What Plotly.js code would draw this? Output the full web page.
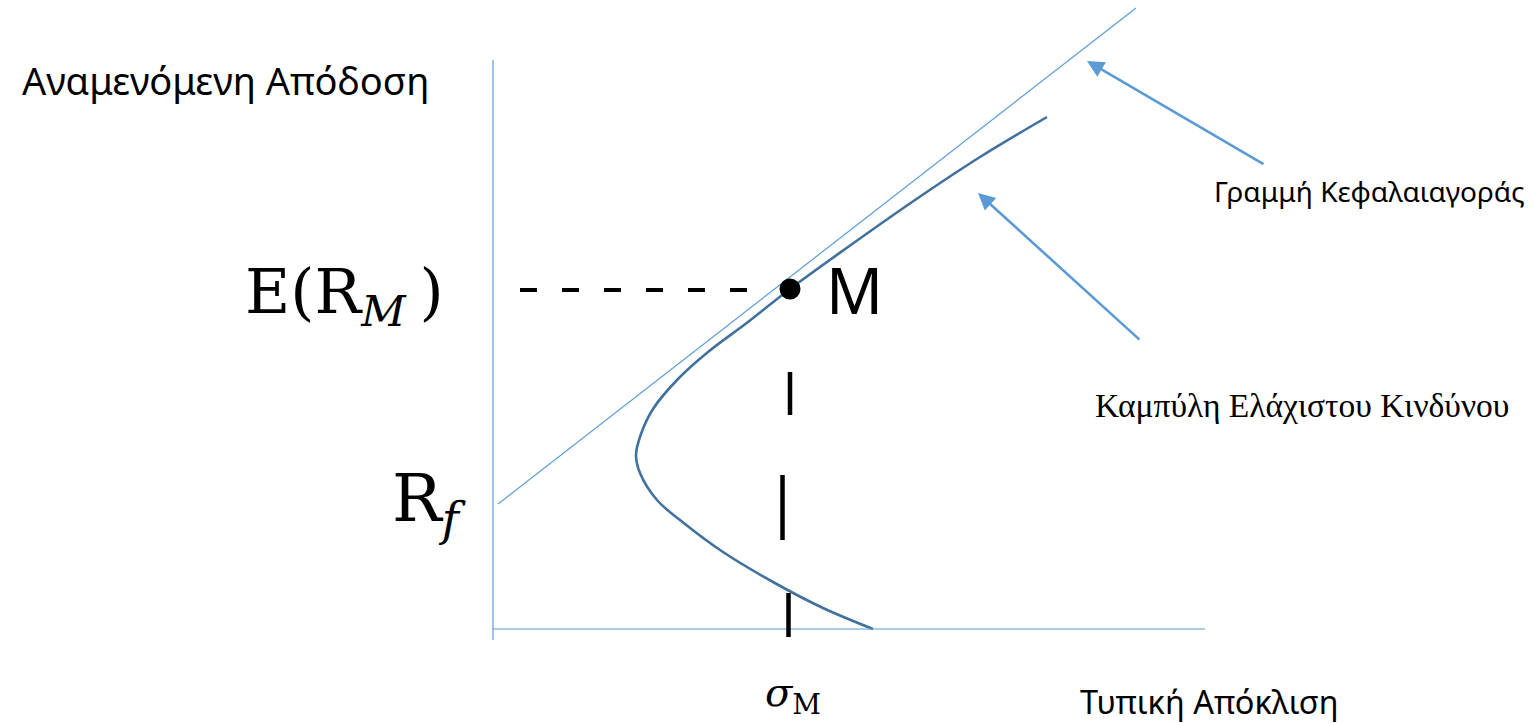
<!DOCTYPE html>
<html>
<head>
<meta charset="utf-8">
<script src="https://cdn.plot.ly/plotly-3.0.1.min.js"></script>
<style>html,body{margin:0;padding:0;background:#fff;overflow:hidden}#chart{width:1534px;height:723px}</style>
</head>
<body>
<div id="chart"></div>
<script>
// Minimum-variance frontier: standard deviation vs expected return
const frontierSigma  = [5.54, 4.87, 4.22, 3.55, 2.97, 2.55, 2.15, 1.85, 1.60, 1.48, 1.43, 1.47, 1.64, 1.92, 2.30, 2.80, 3.30, 3.80];
const frontierReturn = [5.12, 4.72, 4.29, 3.82, 3.40, 3.07, 2.77, 2.50, 2.20, 1.95, 1.74, 1.56, 1.29, 1.05, 0.77, 0.47, 0.21, 0.00];
// Capital market line end points
const cmlSigma  = [0.05, 6.43];
const cmlReturn = [1.25, 6.21];
// Market portfolio M
const marketSigma = 2.97;
const marketReturn = 3.40;
// Axes extents
const axisXMax = 7.12;
const axisYMax = 5.69;
const axisYMin = -0.11;
// Labels
const yAxisLabel = 'Αναμενόμενη Απόδοση';
const xAxisLabel = 'Τυπική Απόκλιση';
const cmlLabel = 'Γραμμή Κεφαλαιαγοράς';
const frontierLabel = 'Καμπύλη Ελάχιστου Κινδύνου';

const SANS = '"Noto Sans", "Open Sans", sans-serif';
const SERIF = '"Liberation Serif", "DejaVu Serif", serif';
const MATH = '"DejaVu Serif", "Liberation Serif", serif';
const AX = '#5B9BD5';
const FR = '#41719C';

const traces = [
  {x: cmlSigma, y: cmlReturn, mode: 'lines', line: {color: AX, width: 1.2}, hoverinfo: 'skip'},
  {x: frontierSigma, y: frontierReturn, mode: 'lines', line: {color: FR, width: 2.6, shape: 'spline', smoothing: 1}, hoverinfo: 'skip'},
  {x: [marketSigma], y: [marketReturn], mode: 'markers', marker: {color: '#000', size: 21}, hoverinfo: 'skip'}
];

const shapes = [
  {type: 'line', x0: 0, x1: 0, y0: axisYMin, y1: axisYMax, line: {color: AX, width: 1.2}},
  {type: 'line', x0: 0, x1: axisXMax, y0: 0, y1: 0, line: {color: AX, width: 1.2}},
  {type: 'line', x0: 0.27, x1: 2.60, y0: 3.39, y1: 3.39, line: {color: '#000', width: 4, dash: '17px,25px'}},
  {type: 'line', x0: 2.97, x1: 2.97, y0: 2.57, y1: 2.14, line: {color: '#000', width: 4.5}},
  {type: 'line', x0: 2.895, x1: 2.895, y0: 1.54, y1: 0.89, line: {color: '#000', width: 4.5}},
  {type: 'line', x0: 2.955, x1: 2.955, y0: 0.36, y1: -0.08, line: {color: '#000', width: 4.5}}
];

const annotations = [
  {x: -4.73, y: 5.49, text: yAxisLabel, xanchor: 'left', yanchor: 'middle', showarrow: false, font: {family: SANS, size: 38, color: '#000'}},
  {x: 5.85, y: -0.725, text: xAxisLabel, xanchor: 'left', yanchor: 'middle', showarrow: false, font: {family: SANS, size: 32.5, color: '#000'}},
  {x: 7.19, y: 4.38, text: cmlLabel, xanchor: 'left', yanchor: 'middle', showarrow: false, font: {family: SANS, size: 28, color: '#000'}},
  {x: 6.00, y: 2.24, text: frontierLabel, xanchor: 'left', yanchor: 'middle', showarrow: false, font: {family: SERIF, size: 33.5, color: '#000'}},
  {x: -2.50, y: 3.34, text: 'E(R<sub><i>M</i> </sub>)', xanchor: 'left', yanchor: 'middle', showarrow: false, font: {family: MATH, size: 62, color: '#000'}},
  {x: -1.03, y: 1.26, text: 'R<sub><i>f</i></sub>', xanchor: 'left', yanchor: 'middle', showarrow: false, font: {family: MATH, size: 66, color: '#000'}},
  {x: 3.31, y: 3.40, text: 'M', xanchor: 'left', yanchor: 'middle', showarrow: false, font: {family: SANS, size: 63, color: '#000'}},
  {x: 3.00, y: -0.66, text: '<i>σ</i><sub>M</sub>', xanchor: 'center', yanchor: 'middle', showarrow: false, font: {family: MATH, size: 40, color: '#000'}},
  {x: 5.94, y: 5.68, ax: 7.72, ay: 4.64, axref: 'x', ayref: 'y', text: '', showarrow: true, arrowhead: 2, arrowsize: 1.3, arrowwidth: 2.6, arrowcolor: AX, standoff: 0, startstandoff: 0},
  {x: 4.85, y: 4.36, ax: 6.48, ay: 2.88, axref: 'x', ayref: 'y', text: '', showarrow: true, arrowhead: 2, arrowsize: 1.3, arrowwidth: 2.6, arrowcolor: AX, standoff: 0, startstandoff: 0}
];

const layout = {
  width: 1534, height: 723,
  margin: {l: 0, r: 0, t: 0, b: 0, pad: 0},
  paper_bgcolor: '#fff', plot_bgcolor: '#fff',
  showlegend: false,
  xaxis: {range: [-4.93, 10.41], visible: false, fixedrange: true},
  yaxis: {range: [-0.94, 6.29], visible: false, fixedrange: true},
  shapes: shapes,
  annotations: annotations
};

Plotly.newPlot('chart', traces, layout, {staticPlot: true, displayModeBar: false});
</script>
</body>
</html>
